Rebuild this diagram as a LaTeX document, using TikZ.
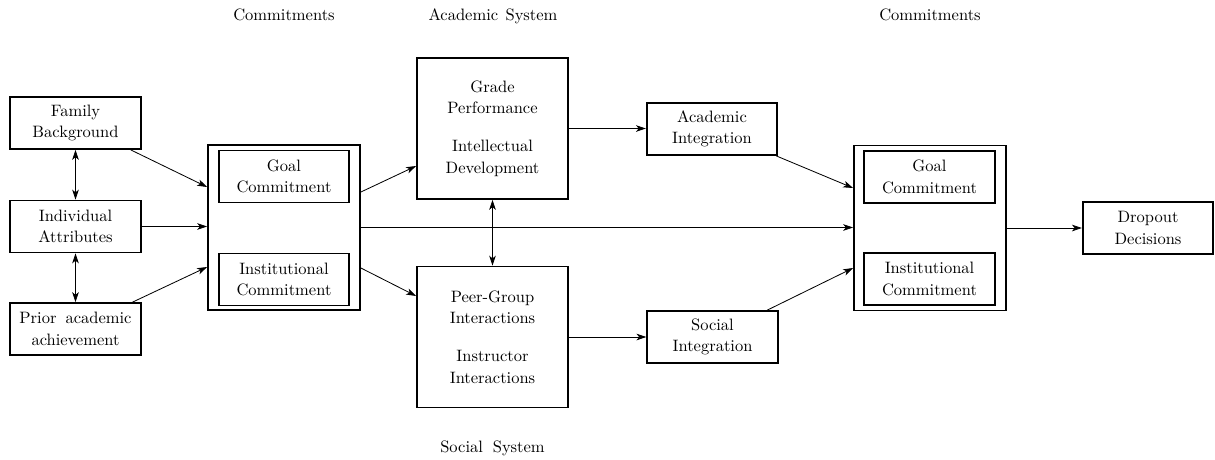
\documentclass[tikz,border=0pt]{standalone}
\usetikzlibrary{arrows.meta,calc}
\begin{document}
\begin{tikzpicture}[x=0.606pt,y=-0.606pt,
  txt/.style={font=\fontsize{10pt}{13pt}\selectfont},
  box/.style={txt,draw,line width=1.1pt,align=center,inner sep=0pt},
  smallbox/.style={box,minimum width=79pt,minimum height=31.5pt},
  bigbox/.style={box,minimum width=91.5pt,minimum height=85.4pt},
  frame/.style={draw,line width=1.1pt,minimum width=92.1pt,minimum height=100pt,inner sep=0pt},
  tip/.tip={Stealth[length=6pt,width=4pt,inset=1.6pt]},
  link/.style={-tip,line width=0.5pt},
  both/.style={tip-tip,line width=0.5pt},
  caption/.style={txt,anchor=base,inner sep=0pt}]

\useasboundingbox (0,0) rectangle (1215,459);

% background characteristics
\node[smallbox] (fam)   at (75.5,123)   {Family\\Background};
\node[smallbox] (ind)   at (75.5,226.5) {Individual\\Attributes};
\node[smallbox] (prior) at (75.5,329)   {Prior\hspace{5.5pt}academic\\achievement};

% initial commitments
\node[frame] (lo) at (284,227.5) {};
\node[smallbox] (lgoal) at (284,176.5) {Goal\\Commitment};
\node[smallbox] (linst) at (284,279.5) {Institutional\\Commitment};

% academic and social systems
\node[bigbox] (grade) at (492.5,128.5) {Grade\\Performance\\[1em]Intellectual\\Development};
\node[bigbox] (peer)  at (492.5,337)   {Peer-Group\\Interactions\\[1em]Instructor\\Interactions};

\node[smallbox] (acad) at (712,129)   {Academic\\Integration};
\node[smallbox] (soc)  at (712.5,337) {Social\\Integration};

% later commitments
\node[frame] (ro) at (930,228) {};
\node[smallbox] (rgoal) at (929.5,177) {Goal\\Commitment};
\node[smallbox] (rinst) at (929.5,279) {Institutional\\Commitment};

\node[smallbox] (drop) at (1148,228) {Dropout\\Decisions};

% headings
\node[caption] (h1) at (284,20.5)   {Commitments};
\node[caption] (h2) at (493,20.5)   {Academic\hspace{4.5pt}System};
\node[caption] (h3) at (930,20.5)   {Commitments};
\node[caption] (h4) at (492.5,452)  {Social\hspace{6pt}System};

% docking points on the frames
\coordinate (loA) at ($(lo.west)+(0,-40.5)$);
\coordinate (loB) at ($(lo.west)+(0,39.5)$);
\coordinate (loC) at ($(lo.east)+(0,-35.5)$);
\coordinate (loD) at ($(lo.east)+(0,40.5)$);
\coordinate (grA) at ($(grade.west)+(0,37.5)$);
\coordinate (peA) at ($(peer.west)+(0,-41)$);
\coordinate (roA) at ($(ro.west)+(0,-40)$);
\coordinate (roB) at ($(ro.west)+(0,40)$);

% connectors
\draw[both] (fam.south) -- (ind.north);
\draw[both] (ind.south) -- (prior.north);
\draw[link] (fam) -- (loA);
\draw[link] (ind.east) -- (ind.east -| lo.west);
\draw[link] (prior) -- (loB);
\draw[link] (loC) -- (grA);
\draw[link] (loD) -- (peA);
\draw[link] (lo.east) -- (lo.east -| ro.west);
\draw[both] (grade.south) -- (peer.north);
\draw[link] (grade.east) -- (grade.east -| acad.west);
\draw[link] (peer.east) -- (peer.east -| soc.west);
\draw[link] (acad) -- (roA);
\draw[link] (soc) -- (roB);
\draw[link] (ro.east) -- (drop.west);
\end{tikzpicture}
\end{document}
